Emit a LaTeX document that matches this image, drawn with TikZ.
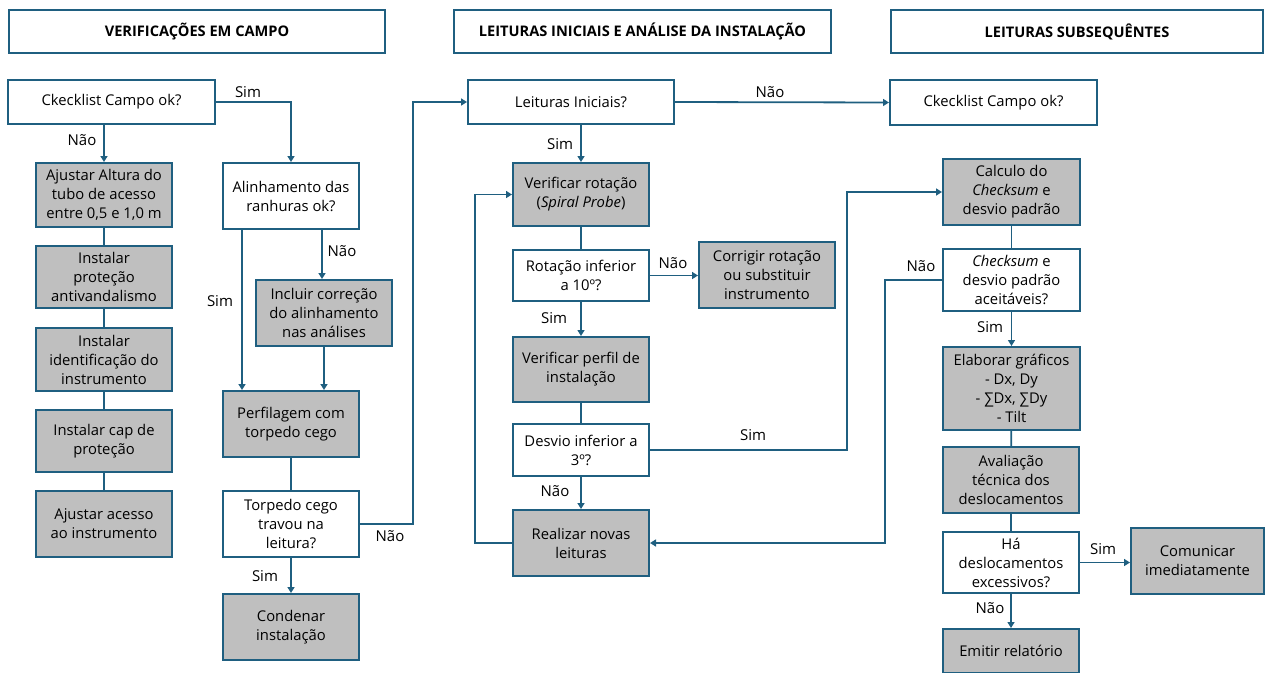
\documentclass[tikz,border=0pt]{standalone}
\usepackage{fontspec}
\setmainfont{Open Sans}
\usetikzlibrary{arrows.meta}
\definecolor{teal}{RGB}{31,95,128}
\definecolor{boxgray}{RGB}{191,191,191}
\tikzset{
  base/.style={draw=teal, line width=2pt, align=center, inner sep=2pt, font=\fontsize{14.8}{19}\selectfont},
  wbox/.style={base, fill=white},
  gbox/.style={base, fill=boxgray},
  hbox/.style={draw=teal, line width=2pt, fill=white, align=center, font=\fontsize{14.6}{16}\selectfont\bfseries},
  conn/.style={draw=teal, line width=1.8pt},
  arr/.style={conn, -{Triangle[width=7pt,length=6pt]}},
  lab/.style={font=\fontsize{15}{16}\selectfont, inner sep=0pt},
}
\begin{document}
\begin{tikzpicture}[x=1pt,y=-1pt]
\useasboundingbox (0,0) rectangle (1265,672);
% headers
\node[hbox, minimum width=376pt, minimum height=43pt] (h1) at (197,31.5) {VERIFICAÇÕES EM CAMPO};
\node[hbox, minimum width=377pt, minimum height=43pt] (h2) at (642.5,31.5) {LEITURAS INICIAIS E ANÁLISE DA INSTALAÇÃO};
\node[hbox, minimum width=372pt, minimum height=43pt] (h3) at (1077,31.5) {LEITURAS SUBSEQUÊNTES};
% column 1
\node[wbox, minimum width=207pt, minimum height=44pt] (c1) at (111.5,102) {Ckecklist Campo ok?};
\node[gbox, minimum width=136pt, minimum height=64pt] (a1) at (104,195) {Ajustar Altura do\\tubo de acesso\\entre 0,5 e 1,0 m};
\node[gbox, minimum width=136pt, minimum height=62pt] (a2) at (104,277) {Instalar\\proteção\\antivandalismo};
\node[gbox, minimum width=136pt, minimum height=63pt] (a3) at (104,359.5) {Instalar\\identificação do\\instrumento};
\node[gbox, minimum width=136pt, minimum height=62pt] (a4) at (104,441) {Instalar cap de\\proteção};
\node[gbox, minimum width=136pt, minimum height=66pt] (a5) at (104,524) {Ajustar acesso\\ao instrumento};
% column 2
\node[wbox, minimum width=136pt, minimum height=66pt] (al) at (291,196) {Alinhamento das\\ranhuras ok?};
\node[gbox, minimum width=136pt, minimum height=66pt] (inc) at (324,313) {Incluir correção\\do alinhamento\\nas análises};
\node[gbox, minimum width=136pt, minimum height=66pt] (pf) at (291,424) {Perfilagem com\\torpedo cego};
\node[wbox, minimum width=136pt, minimum height=66pt] (tt) at (291,524) {Torpedo cego\\travou na\\leitura?};
\node[gbox, minimum width=136pt, minimum height=66pt] (cd) at (291,627) {Condenar\\instalação};
% column 3
\node[wbox, minimum width=206pt, minimum height=44pt] (li) at (571,102) {Leituras Iniciais?};
\node[gbox, minimum width=136pt, minimum height=63pt] (vr) at (581,194.5) {Verificar rotação\\(\textit{Spiral Probe})};
\node[wbox, minimum width=136pt, minimum height=51pt] (ri) at (581,275.5) {Rotação inferior\\a 10º?};
\node[gbox, minimum width=136pt, minimum height=66pt] (cr) at (767,275) {Corrigir rotação\\ou substituir\\instrumento};
\node[gbox, minimum width=136pt, minimum height=65pt] (vp) at (581,369.5) {Verificar perfil de\\instalação};
\node[wbox, minimum width=136pt, minimum height=52pt] (di) at (581,450) {Desvio inferior a\\3º?};
\node[gbox, minimum width=136pt, minimum height=66pt] (rn) at (581,543) {Realizar novas\\leituras};
% column 4
\node[wbox, minimum width=207pt, minimum height=45pt] (ck2) at (993.5,102.5) {Ckecklist Campo ok?};
\node[gbox, minimum width=137pt, minimum height=66pt] (cs) at (1011.5,192) {Calculo do\\\textit{Checksum} e\\desvio padrão};
\node[wbox, minimum width=137pt, minimum height=62pt] (ca) at (1011.5,280) {\textit{Checksum} e\\desvio padrão\\aceitáveis?};
\node[gbox, minimum width=137pt, minimum height=83pt] (eg) at (1011.5,388.5) {Elaborar gráficos\\- Dx, Dy\\- ∑Dx, ∑Dy\\- Tilt};
\node[gbox, minimum width=136pt, minimum height=66pt] (av) at (1011,480) {Avaliação\\técnica dos\\deslocamentos};
\node[wbox, minimum width=136pt, minimum height=61pt] (hd) at (1011,562.5) {Há\\deslocamentos\\excessivos?};
\node[gbox, minimum width=133pt, minimum height=66pt] (ci) at (1197.5,561) {Comunicar\\imediatamente};
\node[gbox, minimum width=136pt, minimum height=44pt] (er) at (1011,651) {Emitir relatório};
% helper coordinates
\coordinate (n1) at (413,0);
\coordinate (n2) at (847,0);
\coordinate (n3) at (475,0);
\coordinate (n4) at (885,0);
% connectors column 1
\draw[arr] (c1.east) -| (al.north);
\draw[arr] (a1.north |- c1.south) -- (a1.north);
\draw[conn] (a1) -- (a2);
\draw[conn] (a2) -- (a3);
\draw[conn] (a3) -- (a4);
\draw[conn] (a4) -- (a5);
% column 2
\draw[arr] ([xshift=-49pt]al.south) -- ([xshift=-49pt]al.south |- pf.north);
\draw[arr] ([xshift=31pt]al.south) -- ([xshift=31pt]al.south |- inc.north);
\draw[arr] (inc.south) -- (inc.south |- pf.north);
\draw[conn] (pf) -- (tt);
\draw[arr] (tt) -- (cd);
\draw[arr] (tt.east) -| (n1 |- li.west) -- (li.west);
% column 3
\draw[arr] (vr.north |- li.south) -- (vr.north);
\draw[arr] (li.east) -- (ck2.west);
\draw[conn] (vr) -- (ri);
\draw[arr] (ri.east) -- (cr.west |- ri.east);
\draw[arr] (ri) -- (vp);
\draw[conn] (vp) -- (di);
\draw[arr] (di) -- (rn);
\draw[arr] (di.east) -| (n2 |- cs.west) -- (cs.west);
\draw[arr] (rn.west) -| (n3 |- vr.west) -- (vr.west);
% column 4
\draw[conn] (cs) -- (ca);
\draw[arr] (ca) -- (eg);
\draw[conn] (eg) -- (av);
\draw[conn] (av) -- (hd);
\draw[arr] (hd) -- (er);
\draw[arr] (hd.east) -- (ci.west |- hd.east);
\draw[arr] (ca.west) -| (n4 |- rn.east) -- (rn.east);
% labels
\node[lab] (l1) at (248,92) {Sim};
\node[lab] (l2) at (82,140) {Não};
\node[lab] (l3) at (220,301) {Sim};
\node[lab] (l4) at (342,251) {Não};
\node[lab] (l5) at (265,576) {Sim};
\node[lab] (l6) at (390,536) {Não};
\node[lab] (l7) at (560,144) {Sim};
\node[lab] (l8) at (770,92) {Não};
\node[lab] (l9) at (673,263) {Não};
\node[lab] (l10) at (554,318) {Sim};
\node[lab] (l11) at (753,435) {Sim};
\node[lab] (l12) at (555,491) {Não};
\node[lab] (l13) at (921,266) {Não};
\node[lab] (l14) at (990,327) {Sim};
\node[lab] (l15) at (1103,549) {Sim};
\node[lab] (l16) at (990,608) {Não};
\end{tikzpicture}
\end{document}
